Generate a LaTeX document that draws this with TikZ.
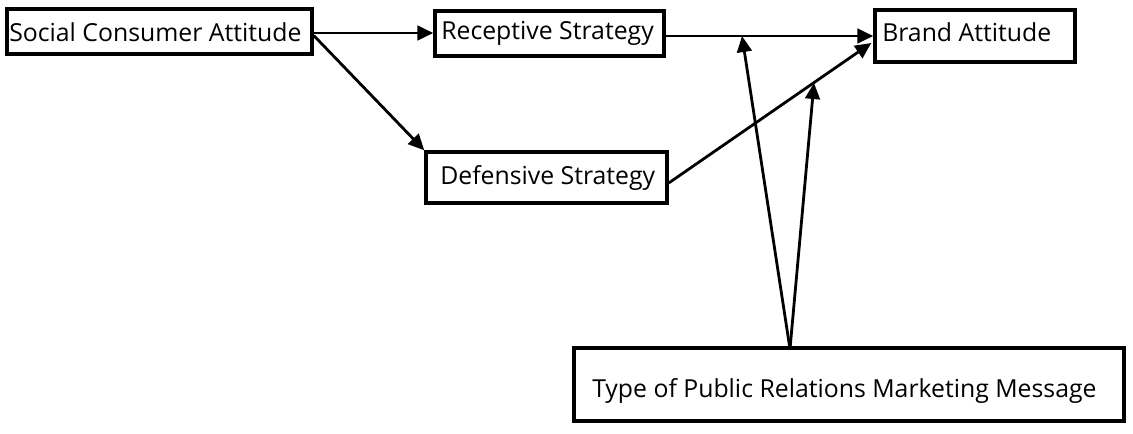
\documentclass[tikz,border=0pt]{standalone}
\usepackage{fontspec}
\setmainfont{Open Sans}
\usetikzlibrary{arrows.meta,calc}
\tikzset{
  boxnode/.style={draw=black, line width=2.6pt, rectangle, inner sep=0pt},
  lbl/.style={inner sep=0pt, anchor=west, font=\fontsize{18.6}{21}\selectfont},
  conn/.style={line width=2.1pt, -{Triangle[length=12pt,width=11pt]}},
}
\begin{document}
\begin{tikzpicture}[x=0.75pt,y=-0.75pt]
\useasboundingbox (0,0) rectangle (1133,433);
\node[boxnode, minimum width=228.75pt, minimum height=33.75pt] (sca) at (159.5,31.5) {};
\node[boxnode, minimum width=171.75pt, minimum height=33.75pt] (rec) at (549.5,33.5) {};
\node[boxnode, minimum width=150pt, minimum height=39pt] (brand) at (975,36) {};
\node[boxnode, minimum width=180.75pt, minimum height=38.25pt] (def) at (546.5,177.5) {};
\node[boxnode, minimum width=412.5pt, minimum height=54.75pt] (type) at (849,384.5) {};
\node[lbl] (scat) at (9,32) {Social Consumer Attitude};
\node[lbl] (rect) at (441,33) {Receptive Strategy};
\node[lbl] (brandt) at (882,32) {Brand Attitude};
\node[lbl] (deft) at (440,178) {Defensive Strategy};
\node[lbl] (typet) at (592,391) {Type of Public Relations Marketing Message};
\coordinate (m1) at (742,36);
\coordinate (m2) at (814,83);
\coordinate (src) at (790,349);
\draw[conn] ($(sca.east)+(0,1.5)$) -- ($(rec.west)+(0,-0.5)$);
\draw[conn] ($(sca.east)+(0,4)$) -- (def.north west);
\draw[conn] ($(rec.east)+(0,2.5)$) -- (brand.west);
\draw[conn] ($(def.east)+(0,5.5)$) -- ($(brand.west)+(-2,7)$);
\draw[conn] (src) -- (m1);
\draw[conn] (src) -- (m2);
\end{tikzpicture}
\end{document}
